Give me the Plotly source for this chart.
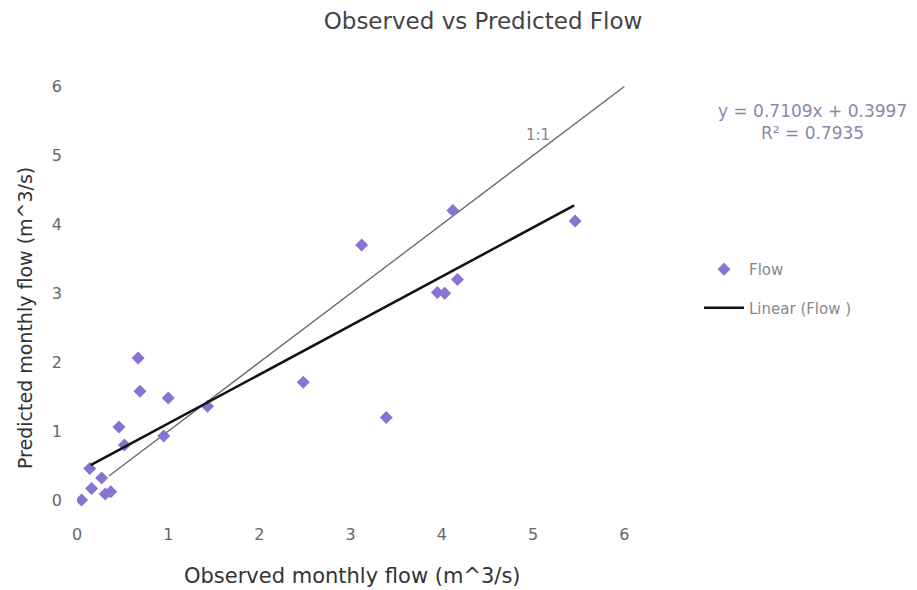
import plotly.graph_objects as go

observed = [0.05, 0.14, 0.16, 0.27, 0.31, 0.37, 0.46, 0.52, 0.67, 0.69, 0.95, 1.00, 1.43,
            2.48, 3.12, 3.39, 3.95, 4.03, 4.12, 4.17, 5.46]
predicted = [0.00, 0.46, 0.17, 0.32, 0.09, 0.12, 1.06, 0.80, 2.06, 1.58, 0.93, 1.48, 1.36,
             1.71, 3.70, 1.20, 3.01, 3.00, 4.20, 3.20, 4.05]
slope = 0.7109
intercept = 0.3997
r2 = 0.7935
trend_x = [0.15, 5.45]
one_to_one = [0.35, 6.0]

FONT = "DejaVu Sans, Liberation Sans, sans-serif"

fig = go.Figure()
fig.add_trace(go.Scatter(x=one_to_one, y=one_to_one, mode="lines",
                         line=dict(color="#666666", width=1.3), showlegend=False, hoverinfo="skip"))
fig.add_trace(go.Scatter(x=observed, y=predicted, mode="markers", name="Flow", legendgroup="a",
                         marker=dict(symbol="diamond", size=10, color="#8a72d2")))
fig.add_trace(go.Scatter(x=trend_x, y=[slope * v + intercept for v in trend_x], mode="lines",
                         name="Linear (Flow )", legendgroup="b",
                         line=dict(color="#111111", width=2.5)))

fig.update_layout(
    width=917, height=590,
    margin=dict(l=77, r=247, t=52, b=83),
    paper_bgcolor="white", plot_bgcolor="white",
    font=dict(family=FONT, color="#777777"),
    title=dict(text="Observed vs Predicted Flow", x=483 / 917, xanchor="center", y=1 - 21 / 590,
               yanchor="middle", font=dict(size=23, color="#444444", family=FONT)),
    xaxis=dict(range=[0, 6.5], tickvals=[0, 1, 2, 3, 4, 5, 6], showgrid=False, zeroline=False,
               showline=False, ticks="", tickfont=dict(size=16, color="#666666"), ticklabelstandoff=16),
    yaxis=dict(range=[-0.1, 6.5], tickvals=[0, 1, 2, 3, 4, 5, 6], showgrid=False, zeroline=False,
               showline=False, ticks="", tickfont=dict(size=16, color="#666666"), ticklabelstandoff=14),
    legend=dict(x=(699 - 77) / 593, y=(507 - 253) / 455, xanchor="left", yanchor="top",
                bgcolor="rgba(0,0,0,0)", font=dict(size=15, color="#888888", family=FONT),
                itemwidth=40, tracegroupgap=16),
    annotations=[
        dict(text="Observed monthly flow (m^3/s)", xref="paper", yref="paper",
             x=(352 - 77) / 593, y=-(576 - 507) / 455, xanchor="center", yanchor="middle",
             showarrow=False, font=dict(size=21, color="#333333", family=FONT)),
        dict(text="Predicted monthly flow (m^3/s)", xref="paper", yref="paper",
             x=-(77 - 25) / 593, y=(507 - 318) / 455, xanchor="center", yanchor="middle",
             textangle=-90, showarrow=False, font=dict(size=19, color="#333333", family=FONT)),
        dict(text=f"y = {slope}x + {intercept}<br>R² = {r2}", xref="paper", yref="paper",
             x=(812 - 77) / 593, y=(507 - 122) / 455, xanchor="center", yanchor="middle",
             showarrow=False, align="center", font=dict(size=17, color="#8888aa", family=FONT)),
        dict(text="1:1", x=5.05, y=5.3, xref="x", yref="y", showarrow=False,
             font=dict(size=15, color="#888888", family=FONT)),
    ],
)
fig.write_html("out.html")
